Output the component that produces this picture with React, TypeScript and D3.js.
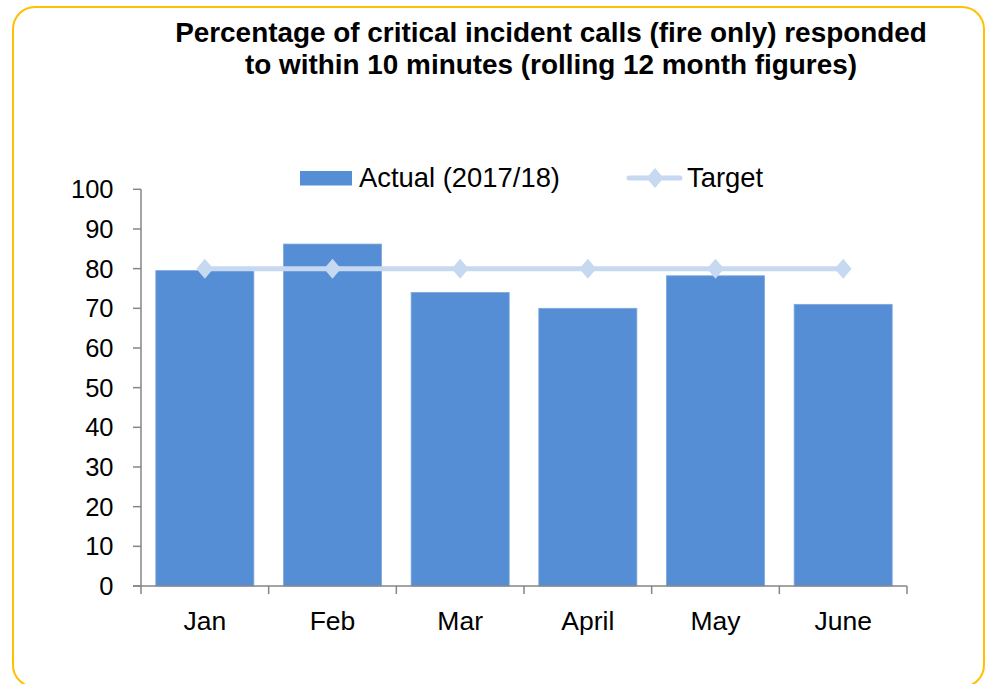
import React from "react";
import * as d3 from "d3";

const months = ["Jan", "Feb", "Mar", "April", "May", "June"];
const actual = [79.5, 86.2, 74, 70, 78.2, 71];
const target = [80, 80, 80, 80, 80, 80];
const yTicks = [0, 10, 20, 30, 40, 50, 60, 70, 80, 90, 100];
const titleLines = [
  "Percentage of critical incident calls (fire only) responded",
  "to within 10 minutes (rolling 12 month figures)",
];

const W = 987;
const H = 684;
const plot = { left: 141, right: 907, top: 189.3, bottom: 586 };
const FONT = "'Liberation Sans', Arial, sans-serif";
const BAR = "#558ed5";
const TARGET = "#c6d9f1";
const AXIS = "#868686";

export default function App() {
  const x = d3
    .scaleBand<string>()
    .domain(months)
    .range([plot.left, plot.right])
    .paddingInner(0.232)
    .paddingOuter(0.116);
  const y = d3.scaleLinear().domain([0, 100]).range([plot.bottom, plot.top]);

  const line = d3
    .line<number>()
    .x((_, i) => (x(months[i]) as number) + x.bandwidth() / 2)
    .y((d) => y(d));

  const band = (plot.right - plot.left) / months.length;
  const diamond = (cx: number, cy: number) =>
    `M${cx},${cy - 10} L${cx + 8.5},${cy} L${cx},${cy + 10} L${cx - 8.5},${cy} Z`;

  return (
    <svg
      width={W}
      height={H}
      style={{ position: "absolute", left: 0, top: 0, background: "#fff" }}
      fontFamily={FONT}
    >
      <rect x={13} y={7} width={971} height={680} rx={22} ry={22} fill="#fff" stroke="#ffc000" strokeWidth={2} />

      {titleLines.map((t, i) => (
        <text key={i} x={551} y={41.5 + i * 32} textAnchor="middle" fontSize={27.9} fontWeight="bold" fill="#000">
          {t}
        </text>
      ))}

      {/* legend */}
      <rect x={300} y={171} width={52} height={14.5} fill={BAR} />
      <text x={359} y={187} fontSize={27.4} fill="#000">Actual (2017/18)</text>
      <line x1={629} x2={680} y1={178} y2={178} stroke={TARGET} strokeWidth={5} strokeLinecap="round" />
      <path d={diamond(655, 178)} fill={TARGET} />
      <text x={687} y={187} fontSize={27.4} fill="#000">Target</text>

      {/* bars */}
      {actual.map((v, i) => (
        <rect
          key={months[i]}
          x={x(months[i])}
          y={y(v)}
          width={x.bandwidth()}
          height={y(0) - y(v)}
          fill={BAR}
          stroke="#7ea7dd"
          strokeWidth={0.8}
        />
      ))}

      {/* y axis */}
      <line x1={plot.left} x2={plot.left} y1={plot.top} y2={plot.bottom} stroke={AXIS} strokeWidth={1.5} />
      {yTicks.map((t) => (
        <g key={t}>
          <line x1={plot.left - 8} x2={plot.left} y1={y(t)} y2={y(t)} stroke={AXIS} strokeWidth={1.5} />
          <text x={113.5} y={y(t) + 9} textAnchor="end" fontSize={25.5} fill="#000">
            {t}
          </text>
        </g>
      ))}

      {/* x axis */}
      <line x1={plot.left - 8} x2={plot.right} y1={plot.bottom} y2={plot.bottom} stroke={AXIS} strokeWidth={1.5} />
      {d3.range(months.length + 1).map((i) => (
        <line
          key={i}
          x1={plot.left + i * band}
          x2={plot.left + i * band}
          y1={plot.bottom}
          y2={plot.bottom + 8}
          stroke={AXIS}
          strokeWidth={1.5}
        />
      ))}
      {months.map((m) => (
        <text key={m} x={(x(m) as number) + x.bandwidth() / 2} y={630} textAnchor="middle" fontSize={26.5} fill="#000">
          {m}
        </text>
      ))}

      {/* target line */}
      <path d={line(target) as string} fill="none" stroke={TARGET} strokeWidth={5} />
      {target.map((v, i) => (
        <path key={i} d={diamond((x(months[i]) as number) + x.bandwidth() / 2, y(v))} fill={TARGET} />
      ))}
    </svg>
  );
}
